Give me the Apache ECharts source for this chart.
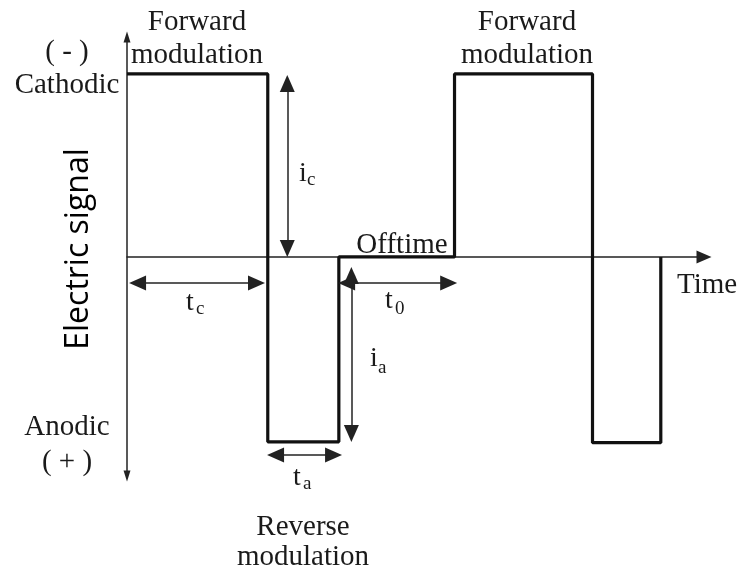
<!DOCTYPE html>
<html>
<head>
<meta charset="utf-8">
<style>html,body{margin:0;padding:0;background:#fff}</style>
</head>
<body>
<div id="chart" style="width:738px;height:571px"></div>
<script src="https://cdn.jsdelivr.net/npm/echarts@6/dist/echarts.min.js"></script>
<script>
var myChart = echarts.init(document.getElementById('chart'));

// waveform corners: time (arbitrary units), level (+1 cathodic, -1 anodic)
let waveTime  = [0, 10.1, 10.1, 15.2, 15.2, 23.5, 23.5, 33.4, 33.4, 38.3, 38.3];
let waveLevel = [1, 1, -1.01, -1.01, 0, 0, 1, 1, -1.015, -1.015, 0];

// dimension arrows (double headed), [time, level] at each end (line ends, heads sit on them)
let dimFrom = [[11.5, 0.948], [0.76, -0.142], [10.66, -1.082], [16.1, -0.101], [15.76, -0.142]];
let dimTo   = [[11.5, 0.046], [9.29, -0.142], [14.82, -1.082], [16.1, -0.965], [23.08, -0.142]];

let timeMax = 41.4, levelMax = 1.202, levelMin = -1.197;

let wave = waveTime.map((t, i) => [t, waveLevel[i]]);
let dims = dimFrom.map((f, i) => [{coord: f}, {coord: dimTo[i]}]);

var serif = '"Liberation Serif", "Times New Roman", serif';
var ink = '#1a1a1a';

function txt(x, y, s, size, align) {
    return {
        type: 'text', x: x, y: y, silent: true,
        style: {text: s, font: size + 'px ' + serif, fill: ink,
                align: align || 'center', verticalAlign: 'middle'}
    };
}
// letter with subscript, x = left edge, y = baseline
function sub(x, y, main, low, drop) {
    return [
        txt(x, y - 9, main, 28, 'left'),
        txt(x + (main === 'i' ? 8 : 10), y + (drop || 3) - 6, low, 19, 'left')
    ];
}

let texts = [
    txt(197, 22, 'Forward', 29), txt(197, 55, 'modulation', 29),
    txt(527, 22, 'Forward', 29), txt(527, 55, 'modulation', 29),
    txt(67, 52, '( - )', 29), txt(67, 85, 'Cathodic', 29),
    txt(67, 427, 'Anodic', 29), txt(67, 462, '( + )', 29),
    txt(303, 527, 'Reverse', 29), txt(303, 557, 'modulation', 29),
    txt(402, 245, 'Offtime', 29),
    txt(677, 285, 'Time', 29, 'left'),
    {
        type: 'text', x: 79, y: 249, rotation: Math.PI / 2, silent: true,
        style: {text: 'Electric signal', font: '32px "Open Sans", sans-serif', fill: '#000',
                align: 'center', verticalAlign: 'middle'}
    }
].concat(
    sub(299, 183, 'i', 'c'),
    sub(186, 312, 't', 'c'),
    sub(293, 487, 't', 'a'),
    sub(385, 310, 't', '0', 5),
    sub(370, 368, 'i', 'a', 6)
);

let option = {
    animation: false,
    grid: {left: 127, right: 34, top: 37, bottom: 95},
    xAxis: {
        type: 'value', min: 0, max: timeMax,
        axisLine: {onZero: true, symbol: ['none', 'triangle'], symbolSize: [13, 15],
                   lineStyle: {color: '#222', width: 1.5}},
        axisTick: {show: false}, axisLabel: {show: false}, splitLine: {show: false}
    },
    yAxis: {
        type: 'value', min: levelMin, max: levelMax,
        axisLine: {symbol: ['triangle', 'triangle'], symbolSize: [7, 11],
                   lineStyle: {color: '#222', width: 1.5}},
        axisTick: {show: false}, axisLabel: {show: false}, splitLine: {show: false}
    },
    series: [{
        type: 'line',
        data: wave,
        symbol: 'none',
        lineStyle: {color: '#111', width: 3.2},
        markLine: {
            silent: true,
            symbol: ['triangle', 'triangle'],
            symbolSize: [15, 17],
            label: {show: false},
            lineStyle: {color: '#222', width: 1.5, type: 'solid'},
            data: dims
        }
    }],
    graphic: texts
};
myChart.setOption(option);
</script>
</body>
</html>
